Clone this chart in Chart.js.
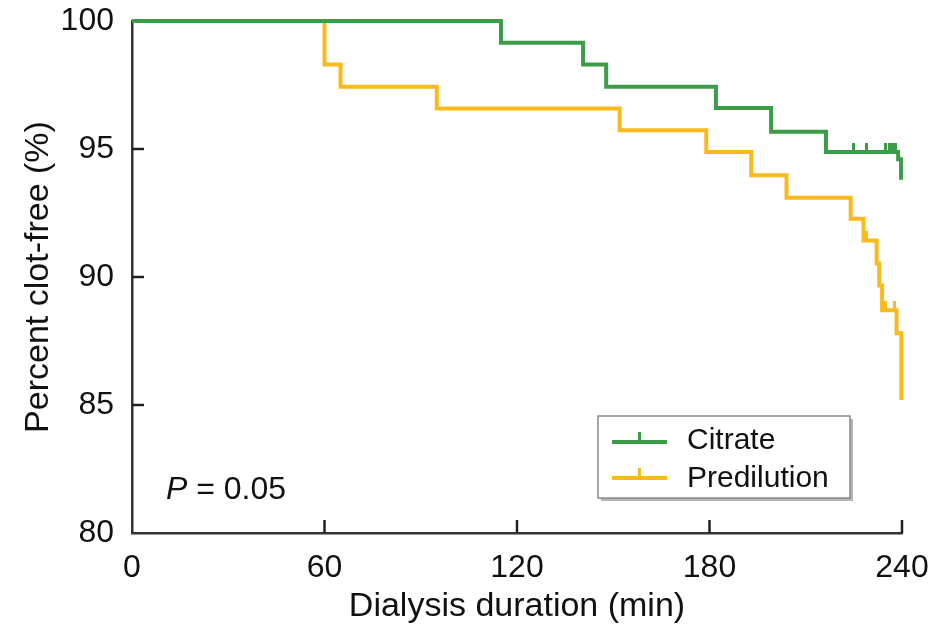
<!DOCTYPE html>
<html>
<head>
<meta charset="utf-8">
<script src="https://cdn.jsdelivr.net/npm/chart.js@4"></script>
<style>
  html, body { margin: 0; padding: 0; background: #ffffff; }
  #c { display: block; }
</style>
</head>
<body>
<canvas id="c" width="936" height="627"></canvas>
<script>
// ---- Data ----
const citrateTime = [0, 115, 140.6, 147.8, 182, 199.2, 216.3, 238.8, 239.7];
const citrateSurv = [100, 99.15, 98.3, 97.43, 96.6, 95.67, 94.88, 94.6, 93.8];
const citrateCensorTime = [224.8, 229, 235, 236, 237, 238];
const citrateCensorSurv = [94.88, 94.88, 94.88, 94.88, 94.88, 94.88];

const predilTime = [0, 60, 65, 95, 152, 179, 193, 204, 224, 228, 232.1, 232.9, 233.8, 238.3, 239.8];
const predilSurv = [100, 98.3, 97.43, 96.58, 95.73, 94.88, 93.97, 93.1, 92.28, 91.43, 90.53, 89.67, 88.7, 87.8, 85.2];
const predilCensorTime = [229, 234.8, 237.8];
const predilCensorSurv = [91.43, 88.7, 88.7];

const xTickValues = [0, 60, 120, 180, 240];
const yTickValues = [80, 85, 90, 95, 100];
const seriesNames = ['Citrate', 'Predilution'];
const pValueText = ['P', ' = 0.05'];
const xTitle = 'Dialysis duration (min)';
const yTitle = 'Percent clot-free (%)';

const GREEN = '#3b9d47';
const YELLOW = '#fbb91c';
const FONT = '"Liberation Sans", Arial, Helvetica, sans-serif';

function pts(t, s) { return t.map((v, i) => ({ x: v, y: s[i] })); }
function censorImg(color) {
  const c = document.createElement('canvas');
  c.width = 3; c.height = 18;
  const g = c.getContext('2d');
  g.fillStyle = color;
  g.fillRect(0, 0, 3, 9);
  return c;
}

const overlay = {
  id: 'overlay',
  afterDraw(chart) {
    const { ctx, chartArea, scales } = chart;
    const x = scales.x, y = scales.y;
    ctx.save();
    // inward tick marks
    ctx.strokeStyle = '#222';
    ctx.lineWidth = 2.5;
    xTickValues.forEach(v => {
      if (v === x.min) return;
      const px = x.getPixelForValue(v);
      ctx.beginPath(); ctx.moveTo(px, chartArea.bottom); ctx.lineTo(px, chartArea.bottom - 13); ctx.stroke();
    });
    yTickValues.forEach(v => {
      if (v === y.min || v === y.max) return;
      const py = y.getPixelForValue(v);
      ctx.beginPath(); ctx.moveTo(chartArea.left, py); ctx.lineTo(chartArea.left + 12, py); ctx.stroke();
    });

    // legend box
    const L = 598, T = 416, R = 850, B = 498;
    ctx.fillStyle = '#b5b5b5';
    ctx.fillRect(L + 3, T + 3, R - L, B - T);
    ctx.fillStyle = '#ffffff';
    ctx.fillRect(L, T, R - L, B - T);
    ctx.strokeStyle = '#8a8a8a';
    ctx.lineWidth = 1.5;
    ctx.strokeRect(L, T, R - L, B - T);

    const rows = [{ c: GREEN, y: 442, base: 449 }, { c: YELLOW, y: 478, base: 487 }];
    rows.forEach((r, i) => {
      ctx.strokeStyle = r.c;
      ctx.lineWidth = 4;
      ctx.beginPath(); ctx.moveTo(612, r.y); ctx.lineTo(667, r.y); ctx.stroke();
      ctx.lineWidth = 3;
      ctx.beginPath(); ctx.moveTo(639.5, r.y); ctx.lineTo(639.5, r.y - 10); ctx.stroke();
      ctx.fillStyle = '#111';
      ctx.font = '30px ' + FONT;
      ctx.textBaseline = 'alphabetic';
      ctx.textAlign = 'left';
      ctx.fillText(seriesNames[i], 687, r.base);
    });

    // P value
    ctx.fillStyle = '#111';
    ctx.font = 'italic 32px ' + FONT;
    ctx.textBaseline = 'alphabetic';
    ctx.fillText(pValueText[0], 166, 499);
    const w = ctx.measureText(pValueText[0]).width;
    ctx.font = '32px ' + FONT;
    ctx.fillText(pValueText[1], 166 + w, 499);
    ctx.restore();
  }
};

new Chart(document.getElementById('c'), {
  type: 'line',
  data: {
    datasets: [
      { label: 'CitrateCensor', data: pts(citrateCensorTime, citrateCensorSurv), showLine: false, clip: 6,
        pointStyle: censorImg(GREEN), pointRadius: 5, borderColor: GREEN, backgroundColor: GREEN },
      { label: seriesNames[0], data: pts(citrateTime, citrateSurv), stepped: true, clip: 6,
        borderColor: GREEN, borderWidth: 4, pointRadius: 0, fill: false },
      { label: 'PredilutionCensor', data: pts(predilCensorTime, predilCensorSurv), showLine: false, clip: 6,
        pointStyle: censorImg(YELLOW), pointRadius: 5, borderColor: YELLOW, backgroundColor: YELLOW },
      { label: seriesNames[1], data: pts(predilTime, predilSurv), stepped: true, clip: 6,
        borderColor: YELLOW, borderWidth: 4, pointRadius: 0, fill: false }
    ]
  },
  options: {
    responsive: false,
    animation: false,
    layout: { padding: { top: 21, right: 34, left: 0, bottom: 0 } },
    plugins: { legend: { display: false }, tooltip: { enabled: false } },
    scales: {
      x: {
        type: 'linear', min: 0, max: 240,
        afterBuildTicks: s => { s.ticks = xTickValues.map(v => ({ value: v })); },
        afterFit: s => { s.height = 94; s.paddingLeft = 0; s.paddingRight = 0; },
        grid: { display: false },
        border: { display: true, color: '#333', width: 2.5 },
        ticks: { color: '#111', font: { family: FONT, size: 32 }, padding: 8, maxRotation: 0 },
        title: { display: true, text: xTitle, color: '#111', font: { family: FONT, size: 34 }, padding: { top: 0, bottom: 0 } }
      },
      y: {
        type: 'linear', min: 80, max: 100,
        afterBuildTicks: s => { s.ticks = yTickValues.map(v => ({ value: v })); },
        afterFit: s => { s.width = 132; s.paddingTop = 0; s.paddingBottom = 0; },
        grid: { display: false },
        border: { display: true, color: '#333', width: 2.5 },
        ticks: { color: '#111', font: { family: FONT, size: 32 }, padding: 10 },
        title: { display: true, text: yTitle, color: '#111', font: { family: FONT, size: 34 }, padding: { top: 18, bottom: 0 } }
      }
    }
  },
  plugins: [overlay]
});
</script>
</body>
</html>
